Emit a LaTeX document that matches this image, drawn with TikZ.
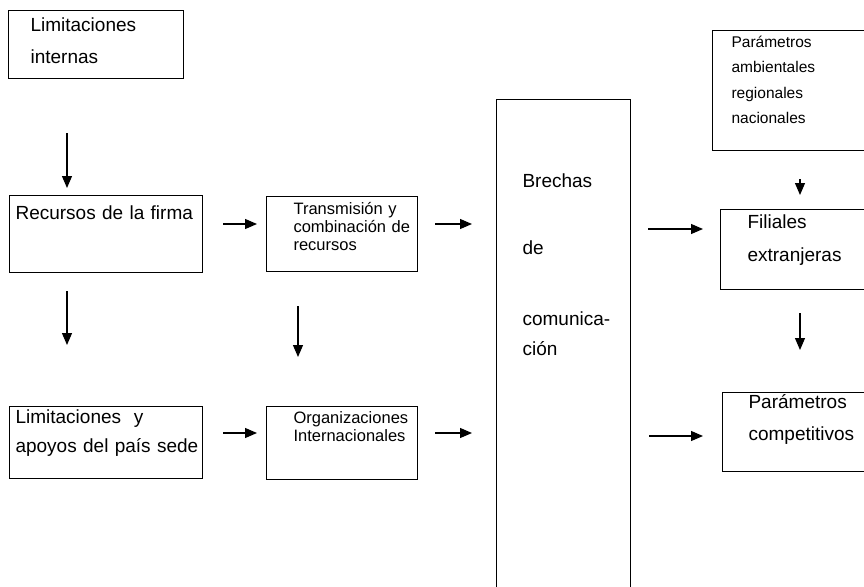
\documentclass[tikz,border=0pt]{standalone}
\usepackage{fontspec}
\setmainfont{Liberation Sans}
\usetikzlibrary{arrows.meta,positioning}
\hyphenpenalty=10000
\exhyphenpenalty=10000
\hbadness=10000
\hfuzz=50pt

\tikzset{
  box/.style={draw, line width=1.1pt, anchor=north west, align=left, inner ysep=0pt},
  big/.style={font=\fontsize{19}{32}\selectfont},
  small/.style={font=\fontsize{16.5}{18}\selectfont},
  arr/.style={-{Triangle[length=12pt,width=10pt]}, line width=1.2pt}
}

\begin{document}
\begin{tikzpicture}[x=1pt, y=-1pt]
    \useasboundingbox (0,0) rectangle (864,586);

    % Left column
    \node[box, big, inner xsep=22pt, text width=131pt, text height=21pt, text depth=47pt] (limint) at (8,10) {Limitaciones\\internas};
    \node[box, big, inner xsep=6pt, text width=181pt, text height=24pt, text depth=53pt] (recursos) at (9,195) {Recursos~de~la~firma};
    \node[box, big, font=\fontsize{19}{29}\selectfont, inner xsep=6pt, text width=181pt, text height=17pt, text depth=55pt] (limapo) at (9,406) {Limitaciones~~y\\apoyos~del~país~sede};

    % Middle column
    \node[box, small, inner xsep=27pt, text width=97pt, text height=18pt, text depth=57pt] (transm) at (266,196) {Transmisión~y\\combinación~de\\recursos};
    \node[box, small, inner xsep=27pt, text width=97pt, text height=17pt, text depth=56pt] (orgs) at (266,406) {Organizaciones\\Internacionales};

    % Tall box
    \node[box, font=\fontsize{19}{30}\selectfont, inner xsep=26pt, text width=82pt, text height=88pt, text depth=413pt] (brechas) at (496,99) {Brechas\\[37pt]de\\[41pt]comunica-\\ción};

    % Right column
    \node[box, font=\fontsize{15.5}{25.3}\selectfont, inner xsep=19pt, text width=130pt, text height=17pt, text depth=103pt] (pamb) at (712,30) {Parámetros\\ambientales\\regionales\\nacionales};
    \node[box, font=\fontsize{19}{33}\selectfont, inner xsep=27pt, text width=106pt, text height=19pt, text depth=61pt] (filiales) at (720,209) {Filiales\\extranjeras};
    \node[box, big, inner xsep=26pt, text width=106pt, text height=16pt, text depth=63pt] (pcomp) at (722,392) {Parámetros\\competitivos};

    % Arrow lines
    \coordinate (colA) at (67,0);
    \coordinate (colB) at (298,0);
    \coordinate (colC) at (800,0);
    \coordinate (rowA) at (0,224);
    \coordinate (rowB) at (0,433);
    \coordinate (rowC) at (0,229);
    \coordinate (rowD) at (0,436);

    % Arrows
    \draw[arr, shorten <=54pt, shorten >=7pt] (limint.south -| colA) -- (recursos.north -| colA);
    \draw[arr, shorten <=18pt, shorten >=61pt] (recursos.south -| colA) -- (limapo.north -| colA);
    \draw[arr, shorten <=34pt, shorten >=49pt] (transm.south -| colB) -- (orgs.north -| colB);
    \draw[arr, shorten <=20pt, shorten >=9pt] (recursos.east |- rowA) -- (transm.west |- rowA);
    \draw[arr, shorten <=17pt, shorten >=24pt] (transm.east |- rowA) -- (brechas.west |- rowA);
    \draw[arr, shorten <=20pt, shorten >=9pt] (limapo.east |- rowB) -- (orgs.west |- rowB);
    \draw[arr, shorten <=17pt, shorten >=24pt] (orgs.east |- rowB) -- (brechas.west |- rowB);
    \draw[arr, shorten <=17pt, shorten >=17pt] (brechas.east |- rowC) -- (filiales.west |- rowC);
    \draw[arr, shorten <=18pt, shorten >=19pt] (brechas.east |- rowD) -- (pcomp.west |- rowD);
    \draw[arr, shorten <=28pt, shorten >=14pt] (pamb.south -| colC) -- (filiales.north -| colC);
    \draw[arr, shorten <=23pt, shorten >=42pt] (filiales.south -| colC) -- (pcomp.north -| colC);
\end{tikzpicture}
\end{document}
